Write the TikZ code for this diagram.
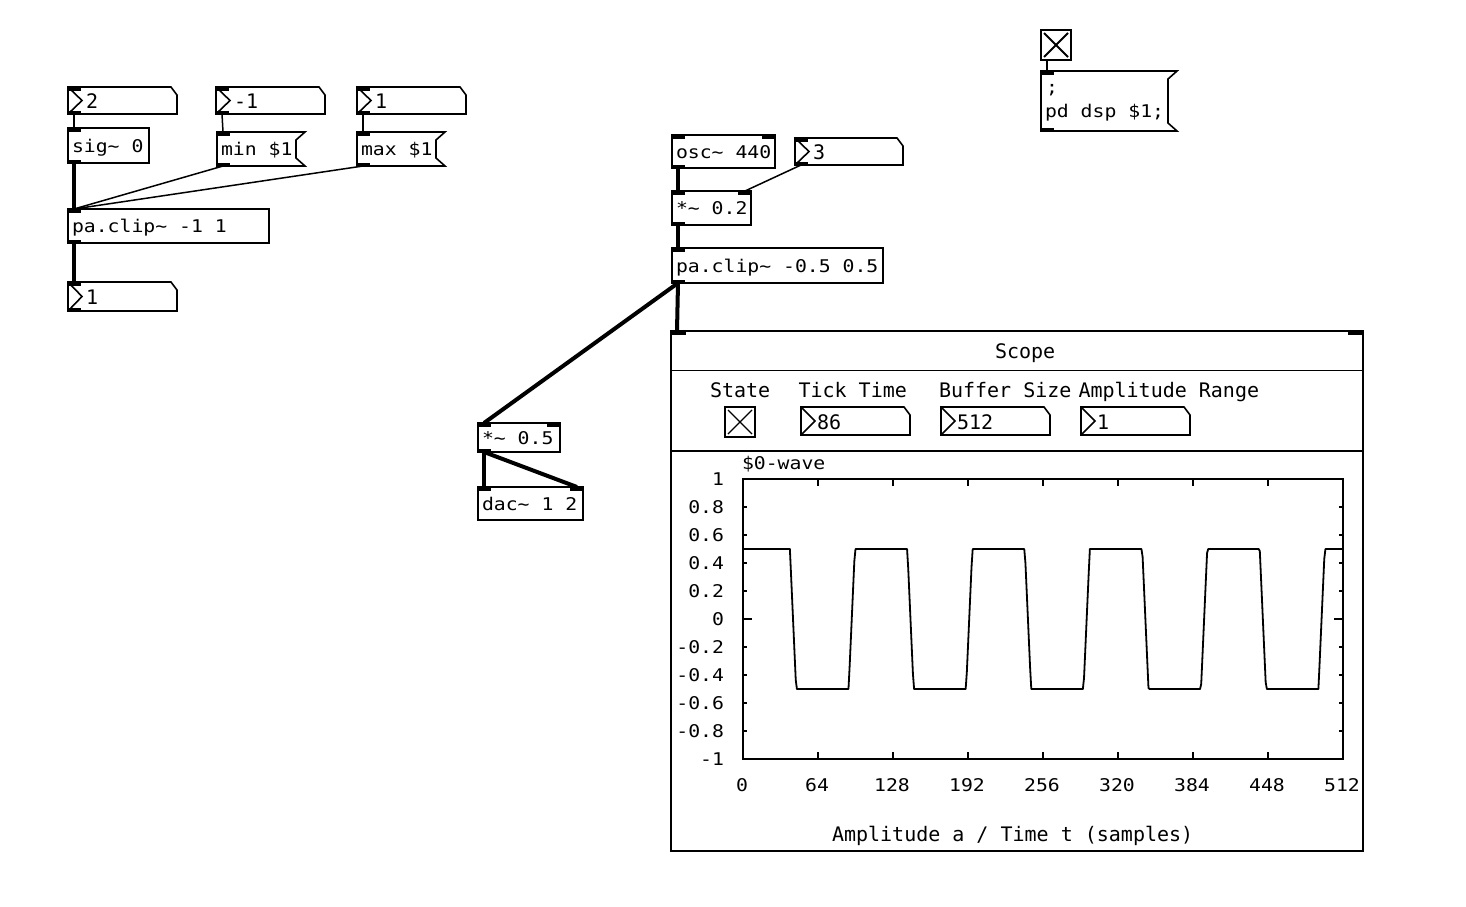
\documentclass[tikz,border=0pt]{standalone}
\usepackage{fontspec}
\newfontfamily\objfont[FakeStretch=1.13]{DejaVu Sans Mono}
\newfontfamily\numfont{DejaVu Sans Mono}
\newcommand\pdtl{\char"7E\relax}
\tikzset{
  frame/.style={line width=1.6pt, line join=miter},
  box/.style={draw, frame, fill=white, anchor=north west, inner sep=0pt, outer sep=0pt},
  place/.style={anchor=north west, inner sep=0pt, outer sep=0pt},
  objtxt/.style={anchor=base west, inner sep=0pt, outer sep=0pt, font=\objfont\fontsize{17.5}{21}\selectfont},
  numtxt/.style={anchor=base west, inner sep=0pt, outer sep=0pt, font=\numfont\fontsize{20}{24}\selectfont},
  ctl/.style={line width=1.5pt},
  sigl/.style={line width=4pt},
}
\newcommand\pdobj[6]{%
  \node[box, minimum width=#4pt, minimum height=#5pt] (#1) at (#2,#3) {};
  \node[objtxt] (#1-t) at ([xshift=4pt,yshift=-6.5pt]#1.west) {#6};
}
\newcommand\pdmsg[6]{%
  \node[place, minimum width=#4pt, minimum height=#5pt] (#1) at (#2,#3) {};
  \draw[frame, fill=white] (#1.north west) -- (#1.north east) -- ([xshift=-9pt,yshift=-8pt]#1.north east) -- ([xshift=-9pt,yshift=8pt]#1.south east) -- (#1.south east) -- (#1.south west) -- cycle;
  \node[objtxt] (#1-t) at ([xshift=4pt,yshift=-6.5pt]#1.west) {#6};
}
\newcommand\pdnum[7][18]{%
  \node[place, minimum width=#5pt, minimum height=#6pt] (#2) at (#3,#4) {};
  \draw[frame, fill=white] (#2.north west) -- ([xshift=-6pt]#2.north east) -- ([yshift=-8pt]#2.north east) -- (#2.south east) -- (#2.south west) -- cycle;
  \draw[frame] (#2.north west) -- ([xshift=14pt]#2.west) -- (#2.south west);
  \node[numtxt] (#2-t) at ([xshift=#1pt,yshift=-8pt]#2.west) {#7};
}
\newcommand\pdtgl[5]{%
  \node[box, minimum width=#4pt, minimum height=#4pt] (#1) at (#2,#3) {};
  \draw[line width=#5pt] ([xshift=3pt,yshift=-3pt]#1.north west) -- ([xshift=-3pt,yshift=3pt]#1.south east);
  \draw[line width=#5pt] ([xshift=-3pt,yshift=-3pt]#1.north east) -- ([xshift=3pt,yshift=3pt]#1.south west);
}
\newcommand\pdin[1]{\fill (#1.north west) rectangle ++(13,3.5);}
\newcommand\pdinr[1]{\fill (#1.north east) rectangle ++(-13,3.5);}
\newcommand\pdout[1]{\fill (#1.south west) rectangle ++(13,-3.5);}
\begin{document}
\begin{tikzpicture}[x=1pt, y=-1pt]
\useasboundingbox[fill=white] (0,0) rectangle (1466,906);

% ---------- left patch ----------
\pdnum{n2}{68}{87}{109}{27}{2}
\pdnum{nm1}{216}{87}{109}{27}{-1}
\pdnum{n1}{357}{87}{109}{27}{1}
\pdobj{sig}{68}{128}{81}{35}{sig\pdtl{} 0}
\pdmsg{minm}{217}{132}{88}{34}{min \$1}
\pdmsg{maxm}{357}{132}{88}{34}{max \$1}
\pdobj{clipa}{68}{209}{201}{34}{pa.clip\pdtl{} -1 1}
\pdnum{nout}{68}{282}{109}{29}{1}
\foreach \n in {n2,nm1,n1,nout,sig,minm,maxm,clipa} {\pdin{\n}}
\foreach \n in {n2,nm1,n1,nout,sig,minm,maxm,clipa} {\pdout{\n}}

\draw[ctl] ([xshift=6pt]n2.south west) -- ([xshift=6pt]sig.north west);
\draw[ctl] ([xshift=6pt]nm1.south west) -- ([xshift=6pt]minm.north west);
\draw[ctl] ([xshift=6pt]n1.south west) -- ([xshift=6pt]maxm.north west);
\draw[sigl] ([xshift=6pt]sig.south west) -- ([xshift=6pt]clipa.north west);
\draw[ctl] ([xshift=6pt]minm.south west) -- ([xshift=6pt]clipa.north west);
\draw[ctl] ([xshift=6pt]maxm.south west) -- ([xshift=6pt]clipa.north west);
\draw[sigl] ([xshift=6pt]clipa.south west) -- ([xshift=6pt]nout.north west);

% ---------- middle patch ----------
\pdobj{osc}{672}{135}{103}{33}{osc\pdtl{} 440}
\pdnum{n3}{795}{138}{108}{27}{3}
\pdobj{mula}{672}{191}{79}{34}{*\pdtl{} 0.2}
\pdobj{clipb}{672}{248}{211}{35}{pa.clip\pdtl{} -0.5 0.5}
\pdobj{mulb}{478}{423}{82}{29}{*\pdtl{} 0.5}
\pdobj{dac}{478}{487}{105}{33}{dac\pdtl{} 1 2}
\foreach \n in {osc,n3,mula,clipb,mulb,dac} {\pdin{\n}}
\foreach \n in {osc,mula,mulb,dac} {\pdinr{\n}}
\foreach \n in {osc,n3,mula,clipb,mulb} {\pdout{\n}}

% ---------- dsp switch ----------
\pdtgl{tgl}{1041}{30}{30}{1.8}
\pdmsg{dsp}{1041}{71}{136}{60}{}
\node[objtxt] (dsp-a) at (1046,93) {;};
\node[objtxt] (dsp-b) at (1045,117.5) {pd dsp \$1;};
\pdin{dsp}
\pdout{dsp}

% ---------- scope ----------
\node[box, minimum width=692pt, minimum height=520pt] (scope) at (671,331) {};
\fill (scope.north west) rectangle ++(15,4);
\fill (scope.north east) rectangle ++(-15,4);
\draw[frame] (671,370.5) -- (1363,370.5);
\draw[frame] (671,451) -- (1363,451);
\node[numtxt] (scopet) at (995,358) {Scope};
\node[numtxt] (lstate) at (710,397.5) {State};
\node[numtxt] (ltick) at (798.5,397.5) {Tick Time};
\node[numtxt] (lbuf) at (939,397.5) {Buffer Size};
\node[numtxt] (lamp) at (1078.5,397.5) {Amplitude Range};
\pdtgl{stgl}{725}{407}{30}{1.1}
\pdnum[16]{ntick}{801}{407}{109}{28}{86}
\pdnum[16]{nbuf}{941}{407}{109}{28}{512}
\pdnum[16]{namp}{1081}{407}{109}{28}{1}

\draw[ctl] ([xshift=6pt]tgl.south west) -- ([xshift=6pt]dsp.north west);
\draw[sigl] ([xshift=6pt]osc.south west) -- ([xshift=6pt]mula.north west);
\draw[ctl] ([xshift=6pt]n3.south west) -- ([xshift=-6pt]mula.north east);
\draw[sigl] ([xshift=6pt]mula.south west) -- ([xshift=6pt]clipb.north west);
\draw[sigl] ([xshift=6pt]clipb.south west) -- ([xshift=6pt]scope.north west);
\draw[sigl] ([xshift=6pt]clipb.south west) -- ([xshift=6pt]mulb.north west);
\draw[sigl] ([xshift=6pt]mulb.south west) -- ([xshift=6pt]dac.north west);
\draw[sigl] ([xshift=6pt]mulb.south west) -- ([xshift=-6pt]dac.north east);

% graph
\node[objtxt] (wname) at (742,469) {\$0-wave};
\node[box, fill=none, minimum width=600pt, minimum height=280pt] (graph) at (743,479) {};
\foreach \k in {1,...,7} {
  \draw[frame] ({743+75*\k},479) -- ++(0,7);
  \draw[frame] ({743+75*\k},759) -- ++(0,-7);
}
\foreach \k in {1,2,3,4,6,7,8,9} {
  \draw[line width=1.4pt] (743,{479+28*\k}) -- ++(4,0);
  \draw[line width=1.4pt] (1343,{479+28*\k}) -- ++(-4,0);
}
\draw[line width=1.4pt] (743,619) -- ++(9,0);
\draw[line width=1.4pt] (1343,619) -- ++(-9,0);
\foreach \v [count=\k from 0] in {1,0.8,0.6,0.4,0.2,0,-0.2,-0.4,-0.6,-0.8,-1}
  \node[objtxt, anchor=base east] (yl\k) at (724,{485+28*\k}) {\v};
\foreach \v [count=\k from 0] in {0,64,128,192,256,320,384,448,512}
  \node[objtxt, anchor=base] (xl\k) at ({742+75*\k},791.5) {\v};
\node[numtxt] (xtitle) at (832,841) {Amplitude a / Time t (samples)};
\draw[line width=1.8pt, line join=round]
  plot[domain=0:512, samples=513, variable=\s]
  ({743+\s*1.171875},{619-140*max(-0.5,min(0.5,3*cos(\s*3.5918-63.3)))});
\end{tikzpicture}
\end{document}
